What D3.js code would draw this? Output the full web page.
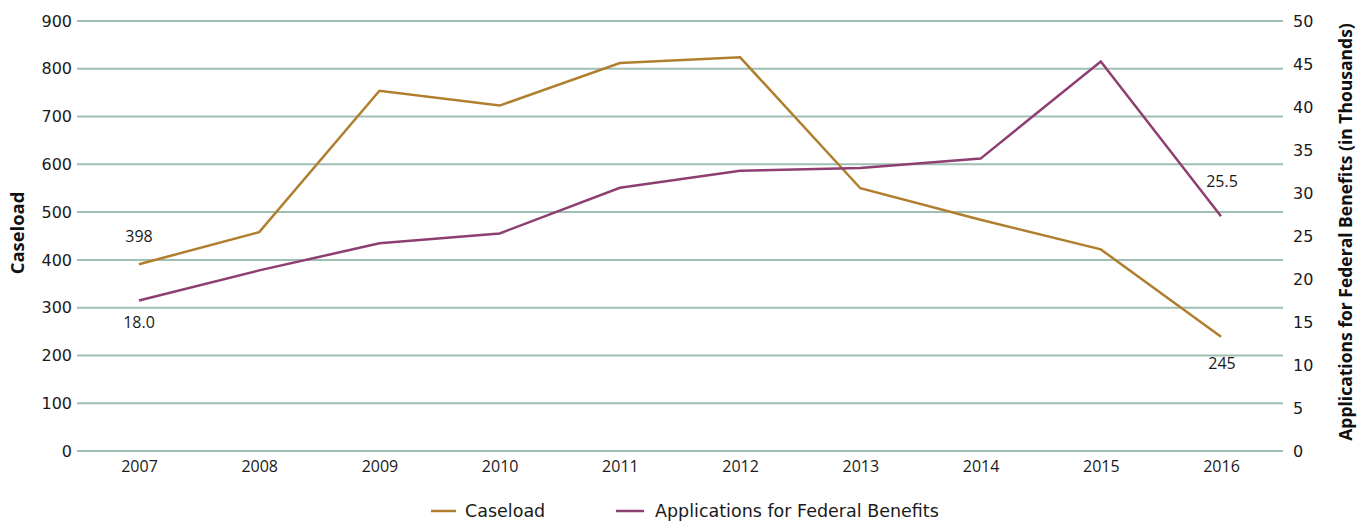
<!DOCTYPE html>
<html><head><meta charset="utf-8">
<script src="https://cdn.jsdelivr.net/npm/d3@7"></script>
<style>body{margin:0;background:#fff;}</style>
</head><body>
<svg id="c" width="1369" height="523" font-family="Open Sans, sans-serif"></svg>
<script>
const years = ["2007","2008","2009","2010","2011","2012","2013","2014","2015","2016"];
const caseload = [391, 458, 754, 723, 812, 824, 550, 484, 422, 239];
const applications = [17.5, 21.0, 24.15, 25.3, 30.6, 32.6, 32.9, 34.0, 45.3, 27.3];
const leftTicks = [0,100,200,300,400,500,600,700,800,900];
const rightTicks = [0,5,10,15,20,25,30,35,40,45,50];
const caseloadLabels = [{i:0, text:"398", pos:"above"}, {i:9, text:"245", pos:"below"}];
const appLabels = [{i:0, text:"18.0", pos:"below"}, {i:9, text:"25.5", pos:"above"}];
const seriesNames = ["Caseload", "Applications for Federal Benefits"];
const colors = ["#B07F2E", "#8E3F72"];

const svg = d3.select("#c");
const x0 = 77, x1 = 1283, yTop = 21, yBot = 451;
const x = d3.scalePoint().domain(years).range([139, 1221]);
const yL = d3.scaleLinear().domain([0,900]).range([yBot, yTop]);
const yR = d3.scaleLinear().domain([0,50]).range([yBot, yTop]);

// gridlines
svg.append("g").selectAll("line").data(leftTicks).join("line")
  .attr("x1", x0).attr("x2", x1)
  .attr("y1", d=>yL(d)).attr("y2", d=>yL(d))
  .attr("stroke", "#9FBFB5").attr("stroke-width", 2);

// left axis
const gl = svg.append("g").attr("transform", `translate(${x0},0)`)
  .call(d3.axisLeft(yL).tickValues(leftTicks).tickSize(0).tickPadding(5));
gl.select(".domain").remove();
gl.selectAll("text").style("font-size", "16px").style("fill", "#1a1a1a").style("font-family", "DejaVu Sans");

// right axis
const gr = svg.append("g").attr("transform", `translate(${x1},0)`)
  .call(d3.axisRight(yR).tickValues(rightTicks).tickSize(0).tickPadding(10));
gr.select(".domain").remove();
gr.selectAll("text").style("font-size", "16px").style("fill", "#1a1a1a").style("font-family", "DejaVu Sans");

// x axis
const gx = svg.append("g").attr("transform", `translate(0,${yBot})`)
  .call(d3.axisBottom(x).tickSize(0).tickPadding(10));
gx.select(".domain").remove();
gx.selectAll("text").style("font-size", "16px").style("fill", "#1a1a1a").style("font-family", "Open Sans");

// axis titles
svg.append("text").attr("transform", `translate(24,233) rotate(-90)`)
  .attr("text-anchor","middle").style("font-size","18.4px").style("font-weight","bold").style("font-family","Open Sans").attr("fill","#111").text("Caseload");
svg.append("text").attr("transform", `translate(1352,232) rotate(-90)`)
  .attr("text-anchor","middle").style("font-size","17.5px").style("font-weight","bold").style("font-family","Open Sans").attr("fill","#111").text("Applications for Federal Benefits (in Thousands)");

// lines
const lineL = d3.line().x((d,i)=>x(years[i])).y(d=>yL(d));
const lineR = d3.line().x((d,i)=>x(years[i])).y(d=>yR(d));
svg.append("path").datum(caseload).attr("d", lineL).attr("fill","none").attr("stroke",colors[0]).attr("stroke-width",2.5);
svg.append("path").datum(applications).attr("d", lineR).attr("fill","none").attr("stroke",colors[1]).attr("stroke-width",2.5);

// data labels
function addLabels(labels, arr, scale, offAbove, offBelow){
  labels.forEach(l=>{
    const px = x(years[l.i]), py = scale(arr[l.i]);
    svg.append("text").attr("x", px + (l.i===9 ? 1 : 0)).attr("y", l.pos==="above" ? py-offAbove : py+offBelow)
      .attr("text-anchor","middle").style("font-size","16px").style("font-family","Open Sans").attr("fill","#1a1a1a").text(l.text);
  });
}
addLabels(caseloadLabels, caseload, yL, 22, 32);
addLabels(appLabels, applications, yR, 29, 27);

// legend
const leg = [{x1:431, x2:456, tx:465, name:seriesNames[0], c:colors[0]}, {x1:616, x2:644, tx:655, name:seriesNames[1], c:colors[1]}];
leg.forEach(l=>{
  svg.append("line").attr("x1", l.x1).attr("x2", l.x2).attr("y1",511).attr("y2",511).attr("stroke", l.c).attr("stroke-width",2.5);
  svg.append("text").attr("x", l.tx).attr("y", 517).style("font-size","17.5px").style("font-family","DejaVu Sans").attr("fill","#1a1a1a").text(l.name);
});
</script>
</body></html>
